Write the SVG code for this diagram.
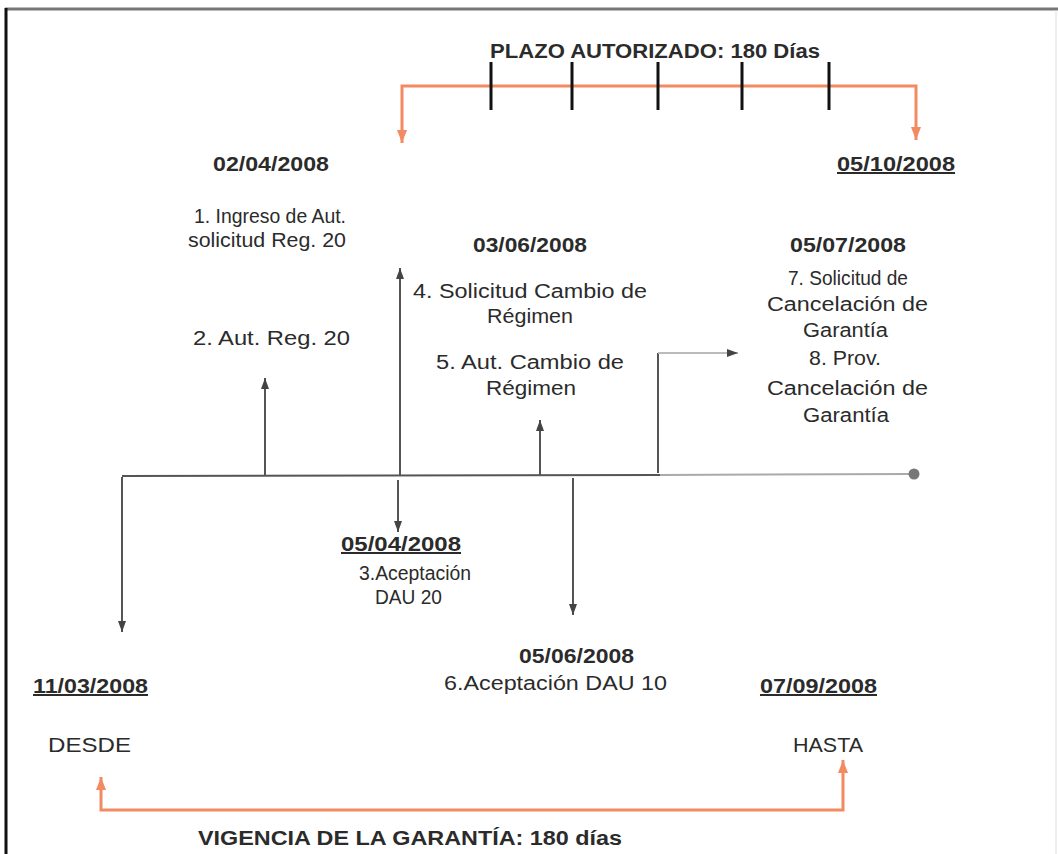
<svg xmlns="http://www.w3.org/2000/svg" width="1058" height="854" viewBox="0 0 1058 854">
<defs>
<marker id="ah" markerUnits="userSpaceOnUse" markerWidth="12" markerHeight="10" refX="11" refY="5" orient="auto-start-reverse"><path d="M0,1 L11,5 L0,9 Z" fill="#444"/></marker>
<marker id="oh" markerUnits="userSpaceOnUse" markerWidth="14" markerHeight="12" refX="13" refY="6" orient="auto-start-reverse"><path d="M0,1 L13,6 L0,11 Z" fill="#F48A62"/></marker>
</defs>
<style>
text{font-family:"Liberation Sans",Arial,sans-serif;font-size:20px;fill:#2b2b2b;}
.b{font-weight:bold;}
.u{text-decoration:underline;}
.c{fill:none;stroke:#555;stroke-width:2;}
.o{fill:none;stroke:#F48A62;stroke-width:3;}
.t{stroke:#111;stroke-width:3;}
</style>
<rect x="0" y="0" width="1058" height="854" fill="#fff"/>
<g id="frame">
<line x1="5" y1="9" x2="1058" y2="9" stroke="#777" stroke-width="3"/>
<line x1="6" y1="8" x2="6" y2="854" stroke="#111" stroke-width="3"/>
<line x1="1056" y1="10" x2="1056" y2="854" stroke="#ddd" stroke-width="1"/>
</g>
<g id="connectors">
<line x1="122" y1="476" x2="660" y2="475" stroke="#555" stroke-width="2"/>
<line x1="660" y1="475" x2="910" y2="474" stroke="#aaa" stroke-width="2"/>
<path class="c" d="M122,477 V632" marker-end="url(#ah)"/>
<path class="c" d="M265,475 V378" marker-end="url(#ah)"/>
<path class="c" d="M400,475 V268" marker-end="url(#ah)"/>
<path class="c" d="M398,480 V532" marker-end="url(#ah)"/>
<path class="c" d="M540,475 V420" marker-end="url(#ah)"/>
<path class="c" d="M573,478 V615" marker-end="url(#ah)"/>
<path class="c" d="M658,473 V353"/>
<path d="M658,353 H738" fill="none" stroke="#bbb" stroke-width="2" marker-end="url(#ah)"/>
<path class="o" d="M402,143 V86 H916 V140" marker-start="url(#oh)" marker-end="url(#oh)"/>
<path class="o" d="M101,777 V810 H843 V760" marker-start="url(#oh)" marker-end="url(#oh)"/>
<line class="t" x1="491" y1="62" x2="491" y2="110"/>
<line class="t" x1="572" y1="62" x2="572" y2="110"/>
<line class="t" x1="658" y1="62" x2="658" y2="110"/>
<line class="t" x1="742" y1="62" x2="742" y2="110"/>
<line class="t" x1="829" y1="62" x2="829" y2="110"/>
</g>
<g id="end-dot"><circle cx="914" cy="474" r="5.5" fill="#777"/></g>
<g id="plazo"><text class="b" x="490" y="58" textLength="330" lengthAdjust="spacingAndGlyphs">PLAZO AUTORIZADO: 180 Días</text></g>
<g id="n1">
<text class="b" x="213" y="171" textLength="116" lengthAdjust="spacingAndGlyphs">02/04/2008</text>
<text x="194" y="223" textLength="152" lengthAdjust="spacingAndGlyphs">1. Ingreso de Aut.</text>
<text x="188" y="247" textLength="158" lengthAdjust="spacingAndGlyphs">solicitud Reg. 20</text>
</g>
<g id="n2"><text x="193" y="345" textLength="157" lengthAdjust="spacingAndGlyphs">2. Aut. Reg. 20</text></g>
<g id="n-end"><text class="b u" x="837" y="171" textLength="118" lengthAdjust="spacingAndGlyphs">05/10/2008</text></g>
<g id="n4">
<text class="b" x="473" y="252" textLength="114" lengthAdjust="spacingAndGlyphs">03/06/2008</text>
<text x="413" y="298" textLength="234" lengthAdjust="spacingAndGlyphs">4. Solicitud Cambio de</text>
<text x="487" y="323" textLength="86" lengthAdjust="spacingAndGlyphs">Régimen</text>
</g>
<g id="n5">
<text x="436" y="369" textLength="188" lengthAdjust="spacingAndGlyphs">5. Aut. Cambio de</text>
<text x="486" y="395" textLength="90" lengthAdjust="spacingAndGlyphs">Régimen</text>
</g>
<g id="n7">
<text class="b" x="790" y="252" textLength="116" lengthAdjust="spacingAndGlyphs">05/07/2008</text>
<text x="788" y="285" textLength="120" lengthAdjust="spacingAndGlyphs">7. Solicitud de</text>
<text x="767" y="311" textLength="161" lengthAdjust="spacingAndGlyphs">Cancelación de</text>
<text x="803" y="337" textLength="85" lengthAdjust="spacingAndGlyphs">Garantía</text>
</g>
<g id="n8">
<text x="809" y="365" textLength="72" lengthAdjust="spacingAndGlyphs">8. Prov.</text>
<text x="767" y="395" textLength="161" lengthAdjust="spacingAndGlyphs">Cancelación de</text>
<text x="803" y="422" textLength="86" lengthAdjust="spacingAndGlyphs">Garantía</text>
</g>
<g id="n3">
<text class="b u" x="341" y="551" textLength="120" lengthAdjust="spacingAndGlyphs">05/04/2008</text>
<text x="359" y="580" textLength="112" lengthAdjust="spacingAndGlyphs">3.Aceptación</text>
<text x="375" y="604" textLength="67" lengthAdjust="spacingAndGlyphs">DAU 20</text>
</g>
<g id="n6">
<text class="b" x="519" y="663" textLength="115" lengthAdjust="spacingAndGlyphs">05/06/2008</text>
<text x="444" y="690" textLength="223" lengthAdjust="spacingAndGlyphs">6.Aceptación DAU 10</text>
</g>
<g id="desde">
<text class="b u" x="33" y="693" textLength="115" lengthAdjust="spacingAndGlyphs">11/03/2008</text>
<text x="48" y="752" textLength="83" lengthAdjust="spacingAndGlyphs">DESDE</text>
</g>
<g id="hasta">
<text class="b u" x="760" y="693" textLength="117" lengthAdjust="spacingAndGlyphs">07/09/2008</text>
<text x="793" y="752" textLength="70" lengthAdjust="spacingAndGlyphs">HASTA</text>
</g>
<g id="vigencia"><text class="b" x="198" y="845" textLength="424" lengthAdjust="spacingAndGlyphs">VIGENCIA DE LA GARANTÍA: 180 días</text></g>
</svg>
